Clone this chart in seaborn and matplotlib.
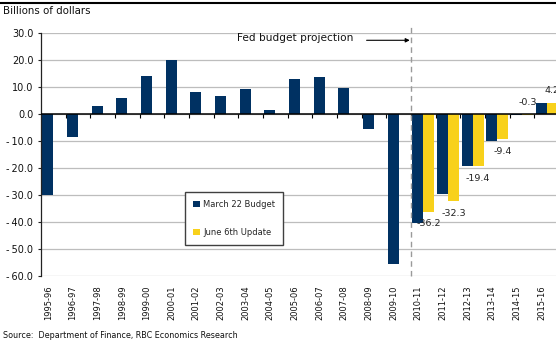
import numpy as np
import pandas as pd
import matplotlib
matplotlib.use("Agg")
import matplotlib.pyplot as plt
import matplotlib.transforms as mtrans
from matplotlib.lines import Line2D
import seaborn as sns

years = ["1995-96", "1996-97", "1997-98", "1998-99", "1999-00", "2000-01",
         "2001-02", "2002-03", "2003-04", "2004-05", "2005-06", "2006-07",
         "2007-08", "2008-09", "2009-10", "2010-11", "2011-12", "2012-13",
         "2013-14", "2014-15", "2015-16"]
march_budget = [-30.0, -8.5, 3.0, 5.8, 14.2, 19.9, 8.0, 6.6, 9.1, 1.4, 13.1,
                13.8, 9.5, -5.7, -55.6, -40.4, -29.8, -19.4, -10.0, -0.3, 4.0]
june_update = [np.nan] * 15 + [-36.2, -32.3, -19.4, -9.4, -0.3, 4.2]
series_names = ["March 22 Budget", "June 6th Update"]
yticks = [-60, -50, -40, -30, -20, -10, 0, 10, 20, 30]

navy = "#003162"
yellow = "#F8D11B"

sns.set_theme(style="white")
plt.rcParams["font.family"] = ["DejaVu Sans"]

n = len(years)
df = pd.DataFrame({
    "year": years * 2,
    "value": march_budget + june_update,
    "series": [series_names[0]] * n + [series_names[1]] * n,
})

W, H = 556, 341
fig = plt.figure(figsize=(W / 100, H / 100), dpi=100)
ax = fig.add_axes([41 / W, 1 - 276 / H, 518 / W, 243 / H])

sns.barplot(data=df, x="year", y="value", hue="series", order=years,
            hue_order=series_names, palette=[navy, yellow], saturation=1,
            width=0.9, gap=0, errorbar=None, linewidth=0, ax=ax, zorder=2)

ax.set_xlim(-0.5, n - 0.5)
ax.set_ylim(-60, 30)


def ytxt(v):
    return f"-\u2009{abs(v):.1f}" if v < 0 else f"{v:.1f}"


ax.set_yticks(yticks, labels=[ytxt(v) for v in yticks])
ax.set_xlabel("")
ax.set_ylabel("")
ax.set_axisbelow(True)
ax.yaxis.grid(True, color="#BDBDBD", lw=0.9)
ax.xaxis.grid(False)
for s in ["top", "right", "bottom"]:
    ax.spines[s].set_visible(False)
ax.spines["left"].set_color("#222222")
ax.spines["left"].set_linewidth(0.9)

ax.tick_params(axis="y", left=True, length=2.5, width=0.8, color="#222222",
               direction="out", pad=3, labelsize=7.0, labelcolor="#111111")
ax.tick_params(axis="x", bottom=False, length=0, pad=6.5, labelsize=6,
               labelrotation=90, labelcolor="#111111")
off = mtrans.ScaledTranslation(-5 / 100, 0, fig.dpi_scale_trans)
for lbl in ax.get_xticklabels():
    lbl.set_transform(lbl.get_transform() + off)

# zero line and category boundary ticks
ax.axhline(0, color="black", lw=1.1, zorder=3)
ax.vlines(np.arange(0.5, n - 1), 0, -1.3, color="black", lw=0.8, zorder=3)

# projection divider
ax.axvline(14.5, ymin=0, ymax=1.025, color="#9A9A9A", lw=1.0,
           ls=(0, (4, 3)), clip_on=False, zorder=3)
ax.annotate("", xy=(14.45, 27.3), xytext=(12.7, 27.3),
            arrowprops=dict(arrowstyle="-|>", color="black", lw=0.8,
                            mutation_scale=6, shrinkA=0, shrinkB=0))
ax.text(12.15, 28.0, "Fed budget projection", ha="right", va="center",
        fontsize=7.6, color="#111111")

# data labels on June update bars
for bar in ax.containers[1]:
    cx = bar.get_x() + bar.get_width() / 2
    idx = int(round(cx))
    v = june_update[idx]
    if np.isnan(v):
        continue
    dy = -8.6 if v < -1 else 8.6
    ax.annotate(f"{v:.1f}", xy=(cx, v), xytext=(0, dy),
                textcoords="offset points", ha="center", va="center",
                fontsize=6.8, color="#222222")

# legend
old = ax.get_legend()
handles = old.legend_handles
labels = [t.get_text() for t in old.get_texts()]
old.remove()
leg = ax.legend(handles, labels, loc="upper left",
                bbox_to_anchor=(0.278, 0.3457), frameon=True, fancybox=False,
                edgecolor="#404040", framealpha=1, fontsize=6.0,
                handlelength=0.75, handleheight=0.75, handletextpad=0.4,
                labelspacing=2.2, borderpad=1.0, borderaxespad=0)
leg.get_frame().set_linewidth(1.0)

fig.text(3 / W, 1 - 11.5 / H, "Billions of dollars", fontsize=7.4,
         va="center", ha="left", color="#111111")
fig.text(3 / W, 1 - 336 / H,
         "Source:  Department of Finance, RBC Economics Research",
         fontsize=5.8, va="center", ha="left", color="#111111")
fig.add_artist(Line2D([0, 1], [1 - 3.3 / H] * 2, transform=fig.transFigure,
                      color="black", lw=1.5))

fig.savefig("out.png", dpi=100)
